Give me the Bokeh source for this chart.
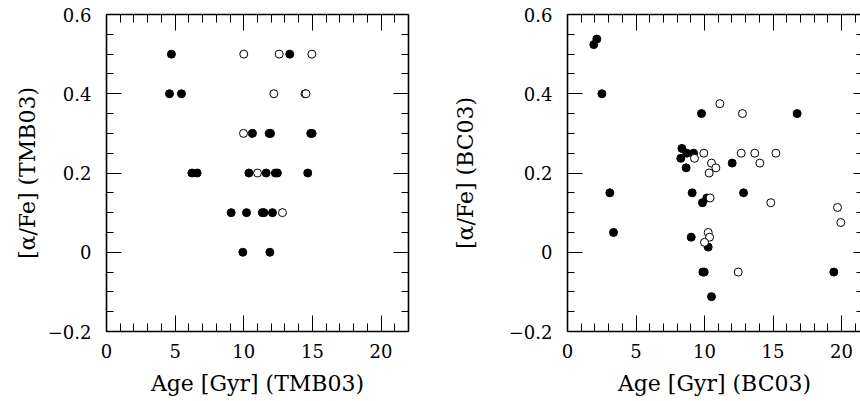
from bokeh.plotting import figure
from bokeh.layouts import row
from bokeh.models import (LinearAxis, FixedTicker, CustomJSTickFormatter, Range1d,
                          CustomLabelingPolicy)
from bokeh.embed import file_html
from bokeh.resources import INLINE

# ---- data ----
tmb_age_filled = [4.73, 13.35, 4.59, 5.46, 10.63, 11.85, 11.95, 14.88, 14.98,
                  6.22, 6.60, 10.37, 11.63, 12.30, 12.45, 14.66,
                  9.08, 10.20, 11.35, 11.47, 12.09, 9.93, 11.90]
tmb_alpha_filled = [0.5, 0.5, 0.4, 0.4, 0.3, 0.3, 0.3, 0.3, 0.3,
                    0.2, 0.2, 0.2, 0.2, 0.2, 0.2, 0.2,
                    0.1, 0.1, 0.1, 0.1, 0.1, 0.0, 0.0]
tmb_age_open = [10.00, 12.58, 14.96, 12.19, 14.46, 14.53, 9.98, 11.00, 12.82]
tmb_alpha_open = [0.5, 0.5, 0.5, 0.4, 0.4, 0.4, 0.3, 0.2, 0.1]

bc_age_filled = [1.92, 2.14, 2.51, 3.09, 3.36, 9.78, 16.76, 8.35, 8.27, 8.71,
                 9.20, 8.66, 12.02, 9.10, 12.85, 10.17, 9.85, 9.03, 10.27,
                 9.88, 9.98, 19.44, 10.51]
bc_alpha_filled = [0.524, 0.538, 0.400, 0.150, 0.050, 0.350, 0.350, 0.262, 0.237, 0.250,
                   0.250, 0.213, 0.225, 0.150, 0.150, 0.137, 0.125, 0.038, 0.013,
                   -0.050, -0.050, -0.050, -0.112]
bc_age_open = [11.12, 12.77, 9.27, 9.95, 10.51, 10.83, 10.34, 12.68, 13.67, 14.04,
               15.21, 10.41, 14.84, 19.71, 19.95, 10.27, 10.37, 10.00, 12.46]
bc_alpha_open = [0.375, 0.350, 0.237, 0.250, 0.225, 0.213, 0.200, 0.250, 0.250, 0.225,
                 0.250, 0.137, 0.125, 0.113, 0.075, 0.050, 0.038, 0.025, -0.050]

x_major = [0, 5, 10, 15, 20]
x_minor = list(range(0, 23))
y_major = [-0.2, 0.0, 0.2, 0.4, 0.6]
y_minor = [round(-0.2 + 0.05 * i, 2) for i in range(17)]

SERIF = "DejaVu Serif"
yfmt_code = """
if (Math.abs(tick) < 1e-9) { return "0"; }
return tick.toFixed(1).replace("-", "\\u2212");
"""
xfmt_code = "return Math.round(tick).toString();"
hide_code = "for (const i of indices) { indices.unset(i) }\nreturn indices"


def style_axis(ax, show_labels, major_in=15, minor_in=7, line=True):
    ax.major_tick_in = major_in
    ax.major_tick_out = 0
    ax.minor_tick_in = minor_in
    ax.minor_tick_out = 0
    ax.major_tick_line_color = "black"
    ax.minor_tick_line_color = "black"
    ax.major_tick_line_width = 1
    ax.minor_tick_line_width = 1
    if line:
        ax.axis_line_color = "black"
        ax.axis_line_width = 1.6
    else:
        ax.axis_line_color = None
    if show_labels:
        ax.major_label_text_font = SERIF
        ax.major_label_text_font_size = "18px"
        ax.major_label_text_color = "black"
        ax.axis_label_text_font = SERIF
        ax.axis_label_text_font_size = "22px"
        ax.axis_label_text_font_style = "normal"
        ax.axis_label_text_color = "black"
    else:
        ax.major_label_policy = CustomLabelingPolicy(code=hide_code)
        ax.major_label_standoff = 0
        ax.axis_label = None


def make_panel(xlab, ylab, fa, fy, oa, oy, left_border, frame_w, x_end, right_line,
               ylab_standoff):
    p = figure(frame_width=frame_w, frame_height=317,
               x_range=Range1d(0, x_end), y_range=Range1d(-0.2, 0.6),
               x_axis_location=None, y_axis_location=None,
               toolbar_location=None, output_backend="svg",
               min_border_left=left_border, min_border_top=14,
               min_border_bottom=70, min_border_right=0,
               background_fill_color="white", border_fill_color="white")
    p.outline_line_color = None
    p.grid.visible = False

    xt = FixedTicker(ticks=x_major, minor_ticks=x_minor)
    yt = FixedTicker(ticks=y_major, minor_ticks=y_minor)

    xb = LinearAxis(ticker=xt, formatter=CustomJSTickFormatter(code=xfmt_code),
                    axis_label=xlab)
    style_axis(xb, True, major_in=16, minor_in=8)
    xb.major_label_standoff = 12
    xb.axis_label_standoff = 10
    p.add_layout(xb, "below")

    xa = LinearAxis(ticker=FixedTicker(ticks=x_major, minor_ticks=x_minor))
    style_axis(xa, False, major_in=16, minor_in=8)
    p.add_layout(xa, "above")

    yl = LinearAxis(ticker=yt, formatter=CustomJSTickFormatter(code=yfmt_code),
                    axis_label=ylab)
    style_axis(yl, True)
    yl.major_label_standoff = 15
    yl.axis_label_standoff = ylab_standoff
    p.add_layout(yl, "left")

    yr = LinearAxis(ticker=FixedTicker(ticks=y_major, minor_ticks=y_minor))
    if right_line:
        style_axis(yr, False)
    else:
        style_axis(yr, False, major_in=8, minor_in=5, line=False)
    p.add_layout(yr, "right")

    p.scatter(fa, fy, size=8, marker="circle", fill_color="black",
              line_color="black", line_width=1)
    p.scatter(oa, oy, size=8, marker="circle", fill_color="white",
              line_color="black", line_width=1)
    return p


p1 = make_panel("Age [Gyr] (TMB03)", "[α/Fe] (TMB03)",
                tmb_age_filled, tmb_alpha_filled, tmb_age_open, tmb_alpha_open,
                106, 302, 22, True, 5)
p2 = make_panel("Age [Gyr] (BC03)", "[α/Fe] (BC03)",
                bc_age_filled, bc_alpha_filled, bc_age_open, bc_alpha_open,
                134, 294, 294 / 13.7, False, 28)
p1.min_border_right = 22

layout = row(p1, p2, spacing=0)
open("out.html", "w").write(file_html(layout, INLINE))
